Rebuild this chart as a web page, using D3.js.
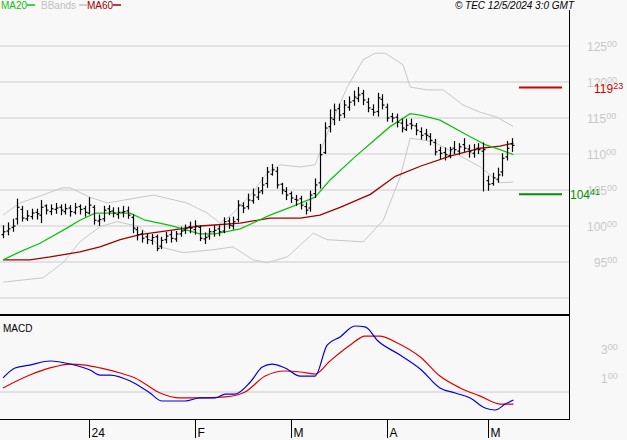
<!DOCTYPE html>
<html>
<head>
<meta charset="utf-8">
<script src="https://cdn.jsdelivr.net/npm/d3@7"></script>
<style>
  body { margin: 0; background: #f8f8f8; }
  svg { display: block; font-family: "Liberation Sans", Arial, sans-serif; }
</style>
</head>
<body>
<div id="chart"></div>
<script>
// koersen per handelsdag (index 0..106)
const opens = [98.8,99.3,99.8,101.0,102.3,101.0,101.3,101.9,101.5,102.8,
102.0,102.3,102.6,102.0,102.5,101.9,102.7,102.4,101.8,102.6,
100.7,101.0,102.4,102.1,101.6,101.9,102.1,101.2,99.5,98.9,
98.5,98.0,98.5,97.2,98.1,98.8,98.2,98.9,99.4,99.9,
99.5,99.8,98.2,98.6,99.2,99.6,99.3,100.7,100.0,100.9,
102.8,102.7,103.5,104.0,104.9,105.9,107.2,107.6,105.8,104.8,
104.5,103.7,103.8,102.7,102.5,104.5,106.0,110.2,113.8,114.8,
116.3,115.6,116.5,117.4,117.7,118.4,117.2,116.2,115.9,117.6,
116.5,115.2,115.1,114.3,113.4,114.2,113.9,113.1,112.8,112.4,
111.6,110.5,110.2,109.8,110.8,110.4,111.3,110.7,110.1,110.8,
110.4,106.3,105.9,106.5,107.5,109.6,111.4];
const highs = [100.1,100.5,101.0,103.8,102.8,102.2,102.4,102.4,103.6,103.0,
103.0,103.2,103.0,103.1,102.9,103.2,103.0,102.8,104.0,102.9,
101.6,102.8,102.9,102.6,102.6,102.8,102.7,101.6,99.9,99.4,
99.0,98.9,98.8,98.5,99.2,99.3,99.3,99.9,100.2,100.6,
100.8,100.1,99.1,99.7,100.1,100.1,101.2,101.2,101.3,103.6,
103.3,104.5,105.2,105.4,106.8,108.2,108.6,108.2,106.0,105.4,
104.8,104.3,104.2,103.3,104.9,106.6,111.4,114.4,116.2,117.0,
117.0,117.5,118.0,118.8,119.3,118.9,117.8,116.9,118.5,118.3,
117.0,115.7,115.6,114.9,114.9,114.9,114.3,113.7,113.5,112.9,
112.1,111.0,110.9,111.0,111.8,111.5,112.2,111.3,111.4,111.5,
111.6,107.0,107.4,108.1,110.1,111.8,112.2];
const lows = [98.3,98.7,99.2,100.2,100.6,100.7,100.9,100.9,100.4,101.6,
101.5,101.7,101.5,101.6,101.3,101.6,101.6,101.3,101.6,100.2,
100.0,100.6,101.5,101.2,101.0,101.2,101.0,99.0,98.0,97.7,
97.5,97.4,96.5,96.8,97.6,97.7,97.8,98.5,98.9,99.0,
98.8,97.9,97.5,98.1,98.5,98.6,99.0,99.6,99.5,100.5,
101.8,102.3,103.1,103.6,104.4,105.3,107.0,105.2,104.4,103.6,
103.2,102.8,102.3,101.6,102.0,103.9,105.2,110.0,113.0,114.0,
114.6,115.0,116.0,116.7,117.2,116.8,115.8,115.3,115.2,116.2,
114.5,114.4,113.7,113.0,113.2,113.4,112.6,112.0,111.9,111.2,
109.8,109.3,109.1,109.4,110.0,109.9,110.3,109.5,109.5,110.0,
104.8,104.9,105.6,106.0,106.9,109.1,110.3];
const closes = [99.2,99.6,100.0,102.6,101.1,101.4,101.8,101.7,102.6,102.2,
102.4,102.5,102.2,102.4,102.0,102.6,102.3,101.9,102.9,100.8,
100.9,102.2,102.0,101.8,101.9,102.0,101.5,99.7,98.8,98.3,
98.1,98.4,96.9,98.0,98.6,98.3,98.9,99.3,99.7,99.7,
100.0,98.3,98.4,99.2,99.4,99.2,100.6,100.1,100.6,102.9,
102.5,103.6,104.3,104.7,105.7,107.5,107.8,105.7,105.0,104.3,
103.9,103.6,102.9,102.2,104.3,105.7,109.9,113.6,115.0,116.1,
115.4,116.8,117.2,117.9,118.2,117.5,116.4,115.8,117.8,116.8,
115.0,115.0,114.4,113.6,114.0,114.0,113.3,112.6,112.6,111.9,
110.3,110.1,109.9,110.6,110.6,111.0,110.8,110.3,110.6,110.6,
110.6,105.8,106.7,107.1,109.4,110.8,111.2];

const ma20 = [[0,95.3],[3.5,96.4],[7.7,97.6],[13.3,99.7],[16,100.8],[19.2,101.8],[26.5,101.8],
  [29.6,100.8],[34.8,100.1],[41,98.9],[44.2,98.9],[49.4,99.6],[55.6,101.5],[59.8,102.6],
  [65,104.0],[68.1,106.4],[73.3,109.6],[80.6,113.8],[84.8,115.6],[86.9,115.4],[91,114.7],
  [97.3,112.4],[100.4,111.3],[103.5,110.6],[106.3,109.9]];
const ma60 = [[0,95.3],[5.6,95.3],[9.8,95.7],[16,96.4],[20.2,97.1],[24.4,98.1],[28.5,98.8],
  [34.8,99.4],[41,100.0],[49.4,100.4],[55.6,101.1],[61.9,101.1],[66,101.5],[70.2,102.6],
  [76.5,104.4],[81.7,106.9],[86.9,108.3],[93.1,109.7],[99.4,110.8],[103.5,111.1],[106.3,111.5]];
const bbUpper = [[0,101.5],[3.5,103.2],[8.3,104.3],[12.3,105.3],[14,105.3],[18.1,104.0],[21.7,103.2],
  [31.3,104.3],[38.3,103.2],[42.5,101.8],[45.2,100.4],[47.5,101.5],[52,104.6],[55,107.4],
  [57.7,108.5],[61.9,108.2],[65,108.5],[68.1,113.8],[71.7,119.3],[75,123.1],[77.5,124.0],
  [79.6,124.0],[83.3,122.4],[84.8,119.3],[88.3,118.9],[91.7,118.9],[95.8,116.8],[99.4,115.8],
  [102.9,115.1],[106.3,113.8]];
const bbLower = [[0,92.2],[8.3,92.8],[12.5,94.9],[16,97.8],[20.2,99.9],[23.75,100.6],[28.5,99.9],
  [32.7,97.1],[37.5,96.3],[43.75,96.7],[47.9,97.1],[52.1,95.3],[55,94.9],[59.2,95.7],[64.6,99.0],
  [67.5,98.1],[75,97.8],[79.2,100.8],[82.7,106.8],[84.8,112.2],[87.7,111.9],[89.6,111.7],
  [96.7,109.2],[99.4,108.2],[103.5,106.0],[106.3,106.1]];
const macd = [[0,97],[2.5,166],[5.6,186],[9.8,214],[14,193],[18.1,152],[20.2,117],[22.3,117],
  [26.5,76],[30.6,-7],[33.1,-62],[37.9,-62],[41,-41],[44.2,-41],[46.3,-14],[48.3,-14],[51.5,69],
  [54,172],[56,193],[58.75,166],[61.9,110],[65,110],[67.5,324],[70.2,380],[73.3,455],[75.4,449],
  [78.1,352],[82.7,255],[86.9,159],[91,28],[94.2,-7],[97.3,-41],[100.4,-110],[102.5,-124],
  [104.6,-83],[106.3,-55]];
const signal = [[0,28],[5.6,117],[9.8,166],[14,193],[17.1,186],[20.2,166],[24.4,131],[27.5,97],
  [32.7,-7],[36.9,-41],[41,-41],[46.3,-34],[50.4,0],[54.6,110],[58.75,145],[61.9,138],[65,124],
  [68.1,214],[72.3,324],[75.4,386],[78.5,386],[81.7,345],[86.9,241],[91,110],[95.2,28],
  [99.4,-28],[103.5,-83],[106.3,-83]];

const priceTicks = [95, 100, 105, 110, 115, 120, 125];
const priceGrid = [90, 95, 100, 105, 110, 115, 120, 125];
const macdTicks = [100, 300];
const monthIdx = [18, 40, 60, 80, 101];
const monthLabels = ["24", "F", "M", "A", "M"];
const marks = [{v: 119.23, c: "#d00000"}, {v: 104.41, c: "#009000"}];

const width = 627, height = 440;
const svg = d3.select("#chart").append("svg").attr("width", width).attr("height", height);
svg.append("rect").attr("width", width).attr("height", height).attr("fill", "#f8f8f8");

const x = d3.scaleLinear().domain([0, 106]).range([3, 512]);
const y = d3.scaleLinear().domain([90, 125]).range([298, 46]);
const ym = d3.scaleLinear().domain([-186, 531]).range([419, 315]);

// rasterlijnen
svg.append("g").selectAll("line").data(priceGrid).join("line")
    .attr("x1", 0).attr("x2", 569).attr("y1", d => y(d)).attr("y2", d => y(d))
    .attr("stroke", "#cccccc");
svg.append("line").attr("x1", 0).attr("x2", 569).attr("y1", ym(0)).attr("y2", ym(0)).attr("stroke", "#cccccc");

// kaders
svg.append("line").attr("x1", 569.5).attr("x2", 569.5).attr("y1", 10).attr("y2", 419).attr("stroke", "#000");
svg.append("line").attr("x1", 0).attr("x2", 570).attr("y1", 315).attr("y2", 315).attr("stroke", "#000").attr("stroke-width", 2);
svg.append("line").attr("x1", 0).attr("x2", 570).attr("y1", 419.5).attr("y2", 419.5).attr("stroke", "#000");

const priceLine = d3.line().x(d => x(d[0])).y(d => y(d[1]));
svg.append("path").attr("d", priceLine(bbUpper)).attr("fill", "none").attr("stroke", "#c8c8c8");
svg.append("path").attr("d", priceLine(bbLower)).attr("fill", "none").attr("stroke", "#c8c8c8");
svg.append("path").attr("d", priceLine(ma60)).attr("fill", "none").attr("stroke", "#a00000").attr("stroke-width", 1.3);
svg.append("path").attr("d", priceLine(ma20)).attr("fill", "none").attr("stroke", "#10c010").attr("stroke-width", 1.3);

// OHLC-staafjes
const bars = svg.append("g").attr("stroke", "#000").attr("stroke-width", 1.2);
closes.forEach((c, i) => {
  const cx = Math.round(x(i)) + 0.5;
  bars.append("line").attr("x1", cx).attr("x2", cx).attr("y1", y(highs[i])).attr("y2", y(lows[i]));
  bars.append("line").attr("x1", cx - 2).attr("x2", cx).attr("y1", y(opens[i])).attr("y2", y(opens[i]));
  bars.append("line").attr("x1", cx).attr("x2", cx + 2).attr("y1", y(c)).attr("y2", y(c));
});

// MACD
const macdLine = d3.line().x(d => x(d[0])).y(d => ym(d[1])).curve(d3.curveMonotoneX);
svg.append("path").attr("d", macdLine(signal)).attr("fill", "none").attr("stroke", "#e00000").attr("stroke-width", 1.2);
svg.append("path").attr("d", macdLine(macd)).attr("fill", "none").attr("stroke", "#0000e0").attr("stroke-width", 1.2);
svg.append("text").attr("x", 3).attr("y", 332).attr("font-size", 10).text("MACD");

// prijslabels rechts
const lab = svg.append("g").attr("fill", "#c8c8c8").attr("font-size", 12);
priceTicks.forEach(p => {
  const t = lab.append("text").attr("x", p < 100 ? 594 : 587).attr("y", y(p) + 5);
  t.append("tspan").text(p);
  t.append("tspan").attr("font-size", 9).attr("dy", -4).text("00");
});
macdTicks.forEach(v => {
  const t = lab.append("text").attr("x", 601).attr("y", ym(v) + 5);
  t.append("tspan").text(String(v)[0]);
  t.append("tspan").attr("font-size", 9).attr("dy", -4).text("00");
});

// markeringen
marks.forEach(m => {
  svg.append("line").attr("x1", 519).attr("x2", 562).attr("y1", y(m.v)).attr("y2", y(m.v))
      .attr("stroke", m.c).attr("stroke-width", 2);
  const [a, b] = m.v.toFixed(2).split(".");
  const t = svg.append("text").attr("x", m.v > 110 ? 594 : 570).attr("y", y(m.v) + 5)
      .attr("fill", m.c).attr("font-size", 12);
  t.append("tspan").text(a);
  t.append("tspan").attr("font-size", 9).attr("dy", -4).text(b);
});

// maand-as
const xa = svg.append("g");
monthIdx.forEach((i, k) => {
  const px = Math.round(x(i)) + 0.5;
  xa.append("line").attr("x1", px).attr("x2", px).attr("y1", 419).attr("y2", 438).attr("stroke", "#000");
  xa.append("text").attr("x", px + 2).attr("y", 437).attr("font-size", 12).text(monthLabels[k]);
});

// legenda
const leg = svg.append("g").attr("font-size", 10);
[{t: "MA20", c: "#10c010", x: 1}, {t: "BBands", c: "#c0c0c0", x: 41}, {t: "MA60", c: "#a00000", x: 87}].forEach(l => {
  leg.append("text").attr("x", l.x).attr("y", 9).attr("fill", l.c).text(l.t);
  const w = l.t.length * 6;
  leg.append("line").attr("x1", l.x + w + 2).attr("x2", l.x + w + 10).attr("y1", 5).attr("y2", 5).attr("stroke", l.c).attr("stroke-width", 1.5);
});
svg.append("text").attr("x", 574).attr("y", 9).attr("text-anchor", "end").attr("font-size", 10)
    .attr("font-style", "italic").text("\u00a9 TEC 12/5/2024 3:0 GMT");
</script>
</body>
</html>
